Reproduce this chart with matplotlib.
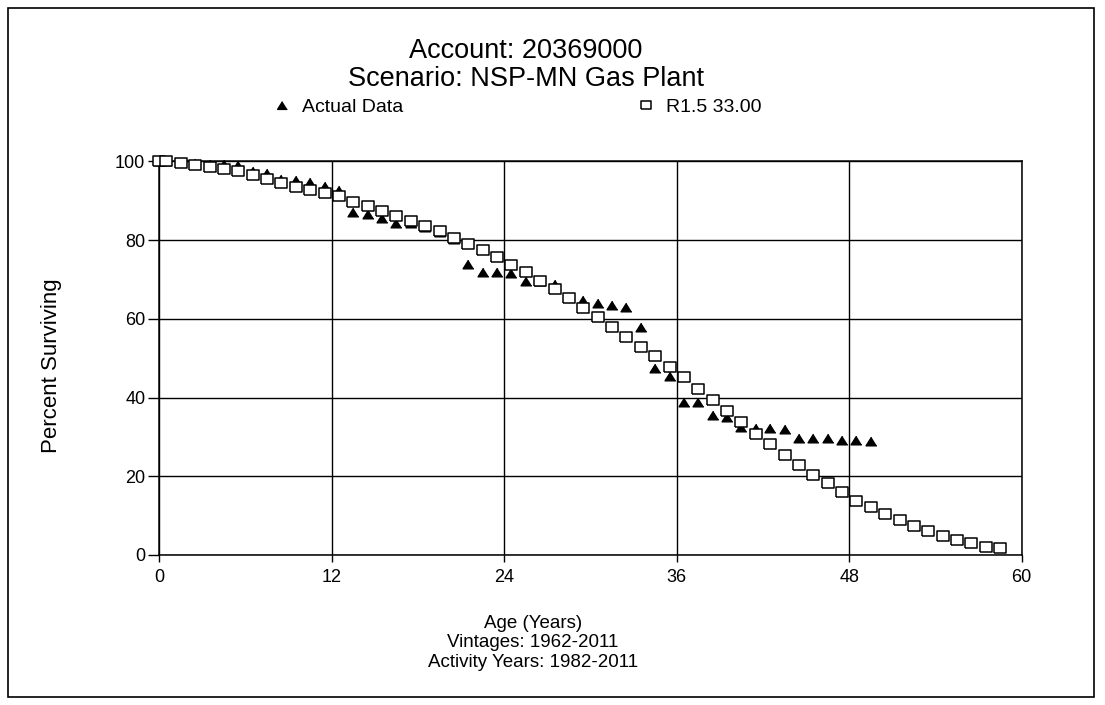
# INITIALIZATION

import matplotlib
matplotlib.use("Agg")
import matplotlib.pyplot as plt
from matplotlib.patches import Rectangle

plt.rcParams['font.family'] = ['Liberation Sans', 'DejaVu Sans']

# DATA

# Ages (years) at which the survivor values are plotted
actual_ages = [0, 0.5, 1.5, 2.5, 3.5, 4.5, 5.5, 6.5, 7.5, 8.5, 9.5, 10.5, 11.5, 12.5,
               13.5, 14.5, 15.5, 16.5, 17.5, 18.5, 19.5, 20.5, 21.5, 22.5, 23.5, 24.5,
               25.5, 26.5, 27.5, 28.5, 29.5, 30.5, 31.5, 32.5, 33.5, 34.5, 35.5, 36.5,
               37.5, 38.5, 39.5, 40.5, 41.5, 42.5, 43.5, 44.5, 45.5, 46.5, 47.5, 48.5,
               49.5]
actual_pct = [100.0, 100.0, 99.8, 99.6, 99.4, 99.3, 99.1, 97.6, 97.1, 95.6, 95.4, 94.7,
              93.8, 92.8, 87.2, 86.6, 85.7, 84.4, 84.3, 83.4, 82.0, 80.4, 74.0, 71.9,
              71.9, 71.7, 69.6, 69.5, 68.9, 65.6, 64.9, 64.1, 63.5, 63.1, 57.9, 47.5,
              45.5, 38.9, 38.9, 35.5, 35.1, 32.4, 32.3, 32.2, 32.1, 29.7, 29.6, 29.6,
              29.2, 29.1, 29.0]

curve_ages = [0, 0.5, 1.5, 2.5, 3.5, 4.5, 5.5, 6.5, 7.5, 8.5, 9.5, 10.5, 11.5, 12.5,
              13.5, 14.5, 15.5, 16.5, 17.5, 18.5, 19.5, 20.5, 21.5, 22.5, 23.5, 24.5,
              25.5, 26.5, 27.5, 28.5, 29.5, 30.5, 31.5, 32.5, 33.5, 34.5, 35.5, 36.5,
              37.5, 38.5, 39.5, 40.5, 41.5, 42.5, 43.5, 44.5, 45.5, 46.5, 47.5, 48.5,
              49.5, 50.5, 51.5, 52.5, 53.5, 54.5, 55.5, 56.5, 57.5, 58.5]
curve_pct = [100.0, 100.0, 99.6, 99.1, 98.6, 98.0, 97.5, 96.5, 95.5, 94.4, 93.6, 92.8,
             91.9, 91.1, 89.7, 88.7, 87.4, 86.1, 84.9, 83.7, 82.3, 80.6, 79.0, 77.6,
             75.8, 73.6, 72.0, 69.7, 67.6, 65.3, 62.8, 60.5, 58.0, 55.4, 52.9, 50.6,
             47.7, 45.1, 42.1, 39.3, 36.5, 33.7, 30.8, 28.2, 25.5, 22.9, 20.3, 18.2,
             15.9, 13.7, 12.2, 10.5, 8.9, 7.4, 6.1, 4.8, 3.8, 3.0, 2.1, 1.7]

x_ticks = [0, 12, 24, 36, 48, 60]
y_ticks = [0, 20, 40, 60, 80, 100]

# Marker shapes: slightly wide triangle and slightly wide open box
tri_marker = [(0, 0.8), (-1, -0.8), (1, -0.8)]
box_marker = [(-1, -0.8), (1, -0.8), (1, 0.8), (-1, 0.8), (-1, -0.8)]

# GRAPH PLOTTING

fig = plt.figure(figsize=(11.05, 7.05), dpi=100)
ax = fig.add_axes([0.1441, 0.2128, 0.7805, 0.5582])

tri, = ax.plot(actual_ages, actual_pct, linestyle='none', marker=tri_marker,
               markersize=7.8, color='black', clip_on=False, zorder=3,
               label='Actual Data')
box, = ax.plot(curve_ages, curve_pct, linestyle='none', marker=box_marker,
               markersize=8.2, markerfacecolor='white', markeredgecolor='black',
               markeredgewidth=1.1, clip_on=False, zorder=4, label='R1.5 33.00')

ax.set_xlim(0, 60)
ax.set_ylim(0, 100)
ax.set_xticks(x_ticks)
ax.set_yticks(y_ticks)
ax.grid(True, color='black', linewidth=1.0)
ax.set_axisbelow(True)
for s in ax.spines.values():
    s.set_linewidth(1.1)
ax.tick_params(axis='y', direction='out', length=8, width=1, pad=2, labelsize=13)
ax.tick_params(axis='x', direction='out', length=5, width=1, pad=5, labelsize=13)

ax.set_ylabel('Percent Surviving', fontsize=16)
ax.yaxis.set_label_coords(-0.1127, 0.480)

xl = ax.set_xlabel('Age (Years)\nVintages: 1962-2011\nActivity Years: 1982-2011',
                   fontsize=13.5, linespacing=1.2)
xl.set_va('center')
ax.xaxis.set_label_coords(0.4334, -0.2236)

# Titles
fig.text(0.476, 0.9277, 'Account: 20369000', ha='center', va='center', fontsize=19.5)
fig.text(0.476, 0.888, 'Scenario: NSP-MN Gas Plant', ha='center', va='center', fontsize=19.5)

# Legend entries, one per series
for h, x0 in [(tri, 0.2464), (box, 0.5758)]:
    fig.legend(handles=[h], loc='center left', bbox_to_anchor=(x0, 0.8482),
               frameon=False, fontsize=14, handlelength=1.0, handletextpad=0.53,
               borderpad=0, borderaxespad=0, markerscale=0.9)

# Page border
fig.patches.append(Rectangle((0.00724, 0.01135), 0.9828, 0.9773, transform=fig.transFigure,
                             fill=False, edgecolor='black', linewidth=1.2))

fig.savefig('out.png', dpi=100)
